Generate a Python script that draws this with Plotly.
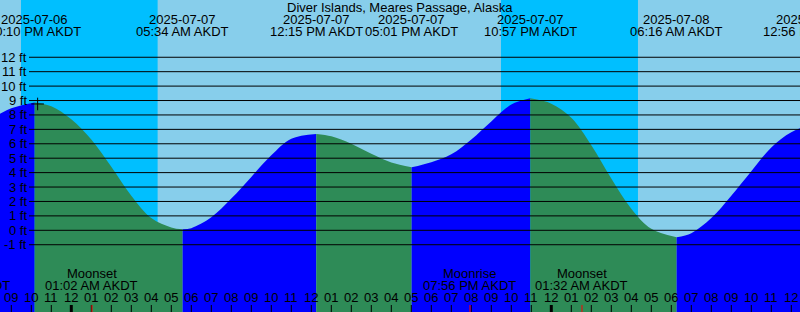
import pandas as pd
import plotly.graph_objects as go

# ---------------- data ----------------
station = "Diver Islands, Meares Passage, Alaska"
tz_name = "AKDT"

extreme_times = ["2025-07-06 22:10", "2025-07-07 05:34", "2025-07-07 12:15",
                 "2025-07-07 17:01", "2025-07-07 22:57", "2025-07-08 06:16",
                 "2025-07-08 12:56"]
extreme_heights = [8.86, 0.07, 6.68, 4.37, 9.15, -0.49, 7.3]

# hourly water level samples (ft), starting 2025-07-06 20:00
sample_start = "2025-07-06 20:00"
sample_heights = [7.75, 8.46, 8.82, 8.6, 7.7, 6.3, 4.4, 2.4, 0.85, 0.2,
                  0.15, 0.9, 2.2, 3.7, 5.2, 6.35, 6.65, 6.52, 6.0, 5.3,
                  4.7, 4.37, 4.72, 5.27, 6.3, 7.55, 8.72, 9.15, 8.78, 7.8,
                  5.9, 3.6, 1.5, 0.1, -0.42, -0.2, 0.85, 2.4, 4.1, 5.75,
                  6.8, 7.3]

night_starts = ["2025-07-06 21:29", "2025-07-07 21:29"]
night_ends = ["2025-07-07 04:19", "2025-07-08 04:20"]

moon_times = ["2025-07-06 18:37", "2025-07-07 01:02", "2025-07-07 19:56", "2025-07-08 01:32"]
moon_events = ["Moonrise", "Moonset", "Moonrise", "Moonset"]

level_ticks = list(range(-1, 13))

mark_time = "2025-07-06 22:19"
mark_height = 8.76

# ---------------- styles ----------------
DAY = "#87CEEB"
NIGHT = "#00BFFF"
FALL = "#2E8B57"
RISE = "#0000FF"
FONT = dict(family="Liberation Sans, Arial, sans-serif", size=13, color="black")

base = pd.Timestamp("2025-07-07 00:00")
def hrs(t):
    return (pd.Timestamp(t) - base) / pd.Timedelta(hours=1)

X0, X1 = -3.565, 36.435
Y0, Y1 = -5.666, 15.971
GRID_X0 = -2.115
TICK_TOP = -5.18

def px(h):  # paper coordinate for a time in hours
    return (h - X0) / (X1 - X0)

fig = go.Figure()

# tide samples merged with extremes
s_times = pd.date_range(sample_start, periods=len(sample_heights), freq="h")
ext = [(hrs(t), v) for t, v in zip(extreme_times, extreme_heights)]
ext_x = [e[0] for e in ext]
pts = [(hrs(t), v) for t, v in zip(s_times, sample_heights)
       if min(abs(hrs(t) - e) for e in ext_x) > 0.3]
allpts = sorted(pts + ext)
bounds = sorted(set([allpts[0][0]] + ext_x + [allpts[-1][0]]))

for i in range(len(bounds) - 1):
    a, b = bounds[i], bounds[i + 1]
    seg = [p for p in allpts if a - 1e-9 <= p[0] <= b + 1e-9]
    if len(seg) < 2:
        continue
    rising = seg[-1][1] > seg[0][1]
    color = RISE if rising else FALL
    fig.add_trace(go.Scatter(x=[a, b], y=[Y0, Y0], mode="lines",
                             line=dict(width=0), hoverinfo="skip", showlegend=False))
    fig.add_trace(go.Scatter(x=[p[0] for p in seg], y=[p[1] for p in seg],
                             mode="lines", line=dict(width=0, shape="spline"),
                             fill="tonexty", fillcolor=color,
                             hoverinfo="skip", showlegend=False))

# night shading
for s, e in zip(night_starts, night_ends):
    fig.add_shape(type="rect", xref="x", yref="paper", x0=hrs(s), x1=hrs(e),
                  y0=0, y1=1, fillcolor=NIGHT, line=dict(width=0), layer="below")

# level lines and labels
for lv in level_ticks:
    fig.add_shape(type="line", xref="x", yref="y", x0=GRID_X0, x1=X1 + 1,
                  y0=lv, y1=lv, line=dict(color="black", width=1), layer="above")
    fig.add_annotation(x=px(GRID_X0), y=lv, xref="paper", yref="y", text=f"{lv} ft",
                       showarrow=False, xanchor="right", yanchor="middle",
                       xshift=0, font=FONT)

# mark
fig.add_trace(go.Scatter(x=[hrs(mark_time)], y=[mark_height], mode="markers",
                         marker=dict(symbol="cross-thin", size=9,
                                     line=dict(color="black", width=1)),
                         hoverinfo="skip", showlegend=False))

def label(xp, yp, dy, text):
    fig.add_annotation(x=xp, y=yp, xref="paper", yref="paper", yshift=dy,
                       text=text, showarrow=False, font=FONT,
                       xanchor="center", yanchor="middle")

# title
label(0.5, 1, -7.5, station)

# extreme labels
for t in extreme_times:
    ts = pd.Timestamp(t)
    label(px(hrs(t)), 1, -19.3, ts.strftime("%Y-%m-%d"))
    label(px(hrs(t)), 1, -31.5, ts.strftime("%I:%M %p ") + tz_name)

# hour labels and ticks
hours = pd.date_range("2025-07-06 19:00", "2025-07-08 14:00", freq="h")
tx_norm, ty_norm, tx_mid, ty_mid = [], [], [], []
for t in hours:
    h = hrs(t)
    label(px(h), 0, 14.3, t.strftime("%I"))
    if t.hour == 0:
        tx_mid += [h, h, None]; ty_mid += [TICK_TOP, Y0, None]
    else:
        tx_norm += [h, h, None]; ty_norm += [TICK_TOP, Y0, None]
fig.add_trace(go.Scatter(x=tx_norm, y=ty_norm, mode="lines",
                         line=dict(color="black", width=1), hoverinfo="skip",
                         showlegend=False))
fig.add_trace(go.Scatter(x=tx_mid, y=ty_mid, mode="lines",
                         line=dict(color="black", width=3), hoverinfo="skip",
                         showlegend=False))

# moon events
mx, my = [], []
for t, ev in zip(moon_times, moon_events):
    h = hrs(t)
    ts = pd.Timestamp(t)
    mx += [h, h, None]; my += [TICK_TOP, Y0, None]
    label(px(h), 0, 38.7, ev)
    label(px(h), 0, 26.5, ts.strftime("%I:%M %p ") + tz_name)
fig.add_trace(go.Scatter(x=mx, y=my, mode="lines",
                         line=dict(color="red", width=1), hoverinfo="skip",
                         showlegend=False))

fig.update_layout(
    width=800, height=312, margin=dict(l=0, r=0, t=0, b=0),
    paper_bgcolor=DAY, plot_bgcolor=DAY, showlegend=False,
    xaxis=dict(range=[X0, X1], visible=False, fixedrange=True),
    yaxis=dict(range=[Y0, Y1], visible=False, fixedrange=True),
    hovermode=False,
)
fig.write_html("out.html", config={"displayModeBar": False})
